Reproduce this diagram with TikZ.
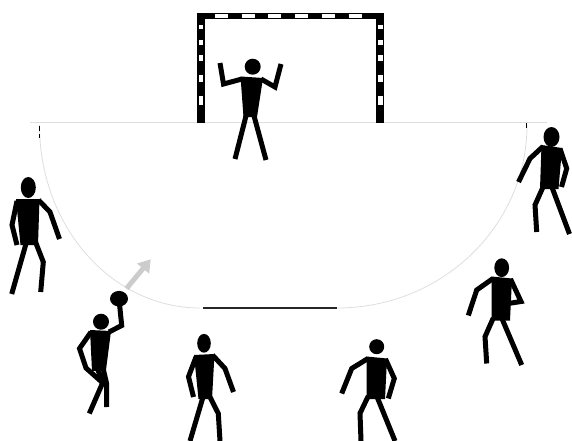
\documentclass[tikz,border=0pt]{standalone}
\usetikzlibrary{arrows.meta}
\definecolor{lineclr}{RGB}{222,222,222}
\definecolor{arrowclr}{RGB}{204,204,204}
\tikzset{
    limb/.style={line width=5pt,line join=miter},
    head/.style={fill=black},
    court/.style={draw=lineclr,line width=0.8pt},
}

\begin{document}
\begin{tikzpicture}[x=1pt,y=-1pt]
\useasboundingbox (0,0) rectangle (572,441);

% goal line and 6m area
\draw[court] (30,122.5) -- (547,122.5);
\draw[court] (39.5,125) arc[start angle=180,end angle=90,x radius=160.5,y radius=183];
\draw[court] (337,308) arc[start angle=90,end angle=0,x radius=190,y radius=183];
\draw[black!85,line width=1.3pt] (203,308) -- (337,308);
\draw[black,line width=1pt] (39.5,126) -- (39.5,131) (39.5,134) -- (39.5,138);
\draw[black,line width=1pt] (526.7,123) -- (526.7,128);

% goal frame
\draw[line width=8pt] (200.5,122.5) -- (200.5,13);
\draw[line width=8pt] (380,122.5) -- (380,13);
\draw[line width=6pt] (196.5,16) -- (384,16);
\draw[white,line width=4.5pt,dash pattern=on 13pt off 13.7pt] (215,16) -- (362,16);
\foreach \a/\b in {25/29.5,40.5/45.5,55.5/61,75/82,96/105}{
  \draw[white,line width=4.5pt] (201,\a) -- (201,\b);
  \draw[white,line width=4.5pt] (380.5,\a) -- (380.5,\b);
}

% goalkeeper
\fill[head] (252.7,66.7) circle (8);
\fill (240.5,76.5) -- (263,78) -- (257,117) -- (243.5,117) -- cycle;
\draw[limb] (242,79) -- (223.5,84) -- (220,63);
\draw[limb] (261,79) -- (275,87) -- (281,64);
\draw[limb] (246.5,114) -- (235,159);
\draw[limb] (253.5,114) -- (266,160);

% left wing
\fill[head] (28.3,187.5) ellipse [x radius=7.5,y radius=10.5];
\fill (16,199) -- (39.5,199) -- (38,245) -- (20.5,245) -- cycle;
\draw[limb] (17,201) -- (12,225) -- (17,245);
\draw[limb] (38.5,200) -- (50,212) -- (59.5,239);
\draw[limb] (26.5,242) -- (11.7,294);
\draw[limb] (35.5,242) -- (43.3,262) -- (40.7,292);

% right wing
\fill[head] (551.5,137) ellipse [x radius=8,y radius=10];
\fill (541.5,145) -- (562,148) -- (558.5,189) -- (540,189) -- cycle;
\draw[limb] (543,146.5) -- (530,158.5) -- (518.5,182);
\draw[limb] (560,148.5) -- (566.7,168.5) -- (561.5,187);
\draw[limb] (543.5,186) -- (535,205) -- (536.7,232);
\draw[limb] (551.5,186) -- (569.5,234);

% thrower with ball
\draw[arrowclr,line width=5pt,-{Triangle[width=15pt,length=12pt]}] (126.5,288.5) -- (150.7,259.3);
\fill (119,298.7) ellipse [x radius=9,y radius=7.8];
\fill[head] (101,321.7) circle (8);
\fill (90,330) -- (111,331) -- (106,370) -- (92,371) -- cycle;
\draw[limb] (109,332) -- (121.7,325.5) -- (119.5,304);
\draw[limb] (91,332) -- (79.5,348.5) -- (86,368) -- (104,384);
\draw[limb] (97,368) -- (103,382) -- (89.3,413.5);
\draw[limb] (103,368) -- (106.5,383) -- (106.7,407);

% centre back
\fill[head] (204,343.3) ellipse [x radius=6.8,y radius=9.4];
\fill (194,355) -- (214.5,354) -- (212,399) -- (198.5,399) -- cycle;
\draw[limb] (196,357) -- (188.5,376.7) -- (193.5,397);
\draw[limb] (212.5,355) -- (225,368.5) -- (233.5,392);
\draw[limb] (203.3,396) -- (190,441);
\draw[limb] (209.5,396) -- (218.3,413.5) -- (220,441);

% right back
\fill[head] (376.7,346.7) circle (7.5);
\fill (366.5,356.5) -- (387,358.5) -- (385,399) -- (366.5,399) -- cycle;
\draw[limb] (368,358.5) -- (351.7,368.5) -- (341.7,393.5);
\draw[limb] (385.5,359) -- (394.3,378.5) -- (388.3,398.5);
\draw[limb] (368.3,396) -- (360,413.3) -- (361,441);
\draw[limb] (376.7,396) -- (395,441);

% right pivot
\fill[head] (501.7,267.7) ellipse [x radius=7.4,y radius=9.4];
\fill (491.5,276.5) -- (512,278.5) -- (510,320.5) -- (491.5,320.5) -- cycle;
\draw[limb] (493,278.5) -- (476.7,290) -- (468.3,315.5);
\draw[limb] (510.5,279) -- (521,301.5) -- (509.5,303.3);
\draw[limb] (493.3,318) -- (485,336.7) -- (486.7,363.5);
\draw[limb] (501.7,318) -- (521.7,365);
\end{tikzpicture}
\end{document}
